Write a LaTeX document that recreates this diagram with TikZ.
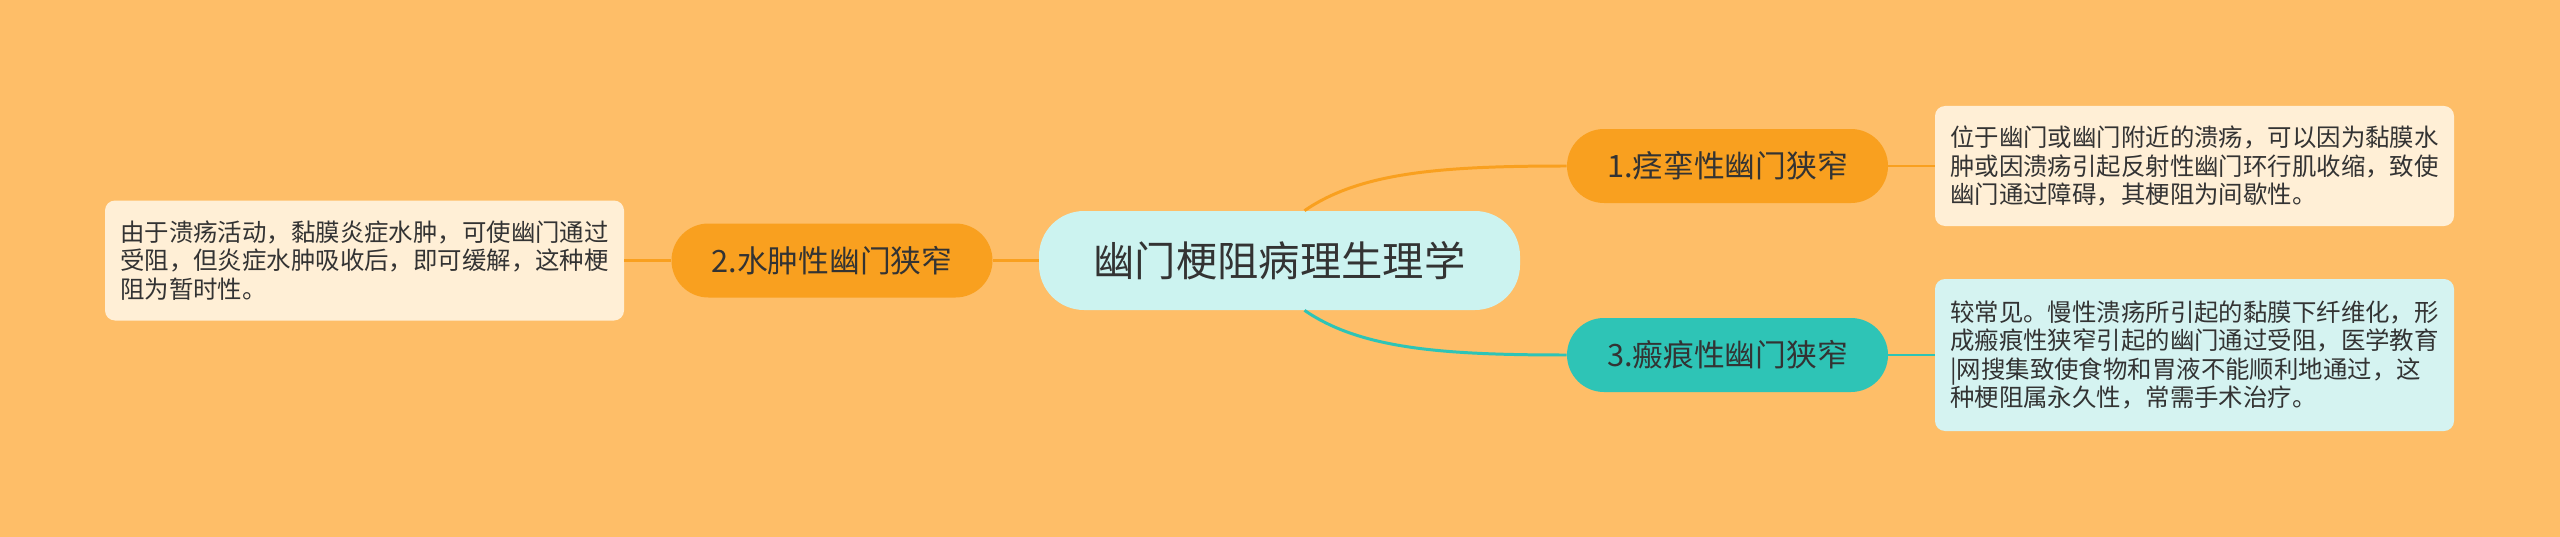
\documentclass[tikz,border=0pt]{standalone}
\usepackage{fontspec}
\setmainfont{Noto Sans CJK SC}
\usepackage{tikz}
\definecolor{bgOrange}{HTML}{FEBE68}
\definecolor{topicOrange}{HTML}{F9A01F}
\definecolor{topicTeal}{HTML}{2EC4B6}
\definecolor{rootCyan}{HTML}{CCF3F0}
\definecolor{noteCream}{HTML}{FFEFD6}
\definecolor{noteCyan}{HTML}{D5F3F1}
\definecolor{inkGray}{HTML}{333333}
\newcommand{\noteSize}[0]{\fontsize{13.9pt}{16.2pt}\selectfont}

\begin{document}
\begin{tikzpicture}
  \tikzset{root/.style={fill=rootCyan,rounded corners=0.9cm,minimum width=9.62cm,
      minimum height=1.98cm,text=inkGray,font=\fontsize{23.5pt}{28pt}\selectfont},
    topic/.style={rounded corners=0.74cm,minimum width=6.42cm,minimum height=1.48cm,
      text=inkGray,font=\fontsize{17.5pt}{21pt}\selectfont},
    note/.style={rounded corners=0.2cm,minimum width=10.38cm,align=left,
      text=inkGray,font=\noteSize},
    branch/.style={line width=1.7pt}}
  \fill[bgOrange] (0,0) rectangle (51.2,-10.74);
  \useasboundingbox (0,0) rectangle (51.2,-10.74);
  \node[root] (root) at (25.59,-5.21) {幽门梗阻病理生理学};
  \node[topic,fill=topicOrange] (spasm) at (34.55,-3.32) {1.痉挛性幽门狭窄};
  \node[topic,fill=topicOrange] (edema) at (16.64,-5.21) {2.水肿性幽门狭窄};
  \node[topic,fill=topicTeal] (scar) at (34.55,-7.10) {3.瘢痕性幽门狭窄};
  \node[note,fill=noteCream,minimum height=2.4cm] (spasm-note) at (43.89,-3.32)
    {位于幽门或幽门附近的溃疡，可以因为黏膜水\\肿或因溃疡引起反射性幽门环行肌收缩，致使\\幽门通过障碍，其梗阻为间歇性。};
  \node[note,fill=noteCream,minimum height=2.4cm] (edema-note) at (7.29,-5.21)
    {由于溃疡活动，黏膜炎症水肿，可使幽门通过\\受阻，但炎症水肿吸收后，即可缓解，这种梗\\阻为暂时性。};
  \node[note,fill=noteCyan,minimum height=3.04cm] (scar-note) at (43.89,-7.10)
    {较常见。慢性溃疡所引起的黏膜下纤维化，形\\成瘢痕性狭窄引起的幽门通过受阻，医学教育\\|网搜集致使食物和胃液不能顺利地通过，这\\种梗阻属永久性，常需手术治疗。};
  \draw[branch,topicOrange] ([xshift=0.5cm]root.north) .. controls (27.2,-3.45) and (28.8,-3.32) .. (spasm.west);
  \draw[branch,topicTeal] ([xshift=0.5cm]root.south) .. controls (27.2,-6.97) and (28.8,-7.10) .. (scar.west);
  \draw[branch,topicOrange] (root.west) -- (edema.east);
  \draw[branch,topicOrange] (edema.west) -- (edema-note.east);
  \draw[branch,topicOrange] (spasm.east) -- (spasm-note.west);
  \draw[branch,topicTeal] (scar.east) -- (scar-note.west);
\end{tikzpicture}
\end{document}
